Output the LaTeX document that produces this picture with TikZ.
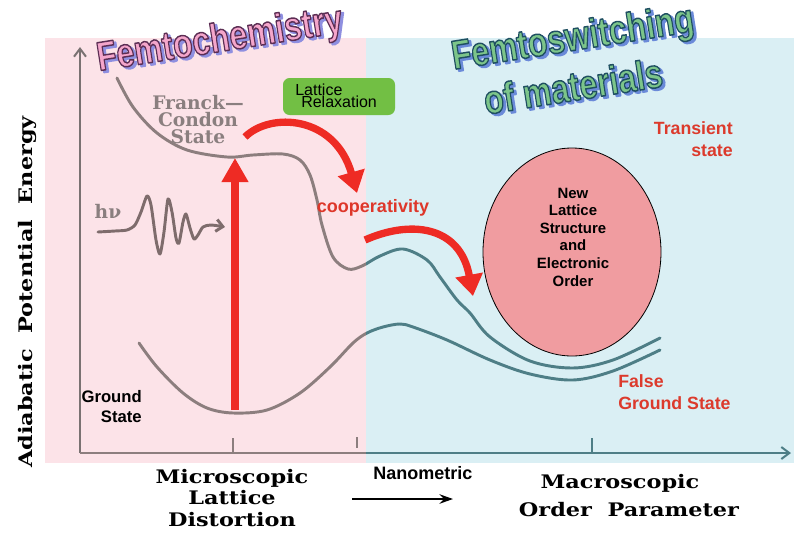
\documentclass[tikz,border=0pt]{standalone}
\usepackage{fontspec}
\setmainfont{Liberation Sans}
\newfontfamily\slab{DejaVu Serif}
\usetikzlibrary{arrows.meta,shapes.geometric}
\definecolor{bgpink}{HTML}{FCE3E8}
\definecolor{bgblue}{HTML}{DAEFF4}
\definecolor{cgrey}{HTML}{8C7E7E}
\definecolor{cteal}{HTML}{4E7E86}
\definecolor{axgrey}{HTML}{7A7272}
\definecolor{redc}{HTML}{EE2B24}
\definecolor{textred}{HTML}{DC3A2C}
\definecolor{boxgreen}{HTML}{72BF44}
\definecolor{ellfill}{HTML}{F09CA0}
\definecolor{fcgrey}{HTML}{8A7F7F}
\definecolor{wavegrey}{HTML}{7E6C6C}
\definecolor{pinkfill}{HTML}{F4A6CB}
\definecolor{pinkshadow}{HTML}{8E8FE0}
\definecolor{greenfill}{HTML}{7CC58A}
\definecolor{greenshadow}{HTML}{6A8AD8}
\newcommand\fs[2]{\fontsize{#1}{#2}\selectfont}
% stroked (outlined) text: #1 stroke colour as "r g b", #2 width, #3 text
\newcommand\strk[3]{\special{pdf:literal direct #1 RG #2 w 1 j 2 Tr}#3\special{pdf:literal direct 0 Tr}}
\newcommand\wide[1]{\scalebox{1.2}[1]{#1}}
\newcommand\narrow[1]{\scalebox{0.79}[1]{#1}}
\tikzset{
  ttl/.style={inner sep=0pt, rotate=9, font=\fs{30.5}{30.5}\bfseries},
  slabtext/.style={inner sep=0pt, font=\slab\bfseries\fs{14}{16}, align=center},
  redtext/.style={inner sep=0pt, text=textred, font=\bfseries\fs{13.3}{16.5}},
  curve/.style={line width=2.2pt, line join=round, line cap=round},
  redarrow/.style={draw=redc, line width=5.5pt},
  axisline/.style={line width=1.5pt}
}
\begin{document}
\begin{tikzpicture}[x=0.75pt,y=-0.75pt]
\useasboundingbox (0,0) rectangle (794,533);
\fill[white] (0,0) rectangle (794,533);
% backgrounds
\fill[bgpink] (45,38) rectangle (366,463);
\fill[bgblue] (366,38) rectangle (794,463);

% y axis
\coordinate (yb) at (80,453);
\coordinate (yt) at (80,47);
\draw[axisline, axgrey, -{Straight Barb[length=6pt,width=9pt]}] (yb) -- (yt);

% curves and x axis, grey on pink, teal on blue
\foreach \cl/\xa/\xb in {cgrey/0/366, cteal/366/794}{
  \begin{scope}
    \clip (\xa,0) rectangle (\xb,533);
    \draw[curve, \cl] plot[smooth, tension=0.55] coordinates {
      (117,78) (133,107) (157,133) (187,150) (227,157) (253,155) (283,154)
      (300,160) (310,175) (317,200) (322,225) (333,257) (348,269) (362,266)
      (380,256) (403,249) (427,260) (440,277) (457,300) (470,313) (490,337)
      (530,361) (573,368) (613,360) (660,338)};
    \draw[curve, \cl] plot[smooth, tension=0.55] coordinates {
      (139,343) (157,367) (183,393) (207,408) (233,413) (267,410) (300,393)
      (330,367) (353,343) (367,333) (383,327) (400,324) (413,327) (447,340)
      (490,360) (530,374) (573,380) (613,371) (660,350)};
    \draw[axisline, \cl, -{Straight Barb[length=6pt,width=9pt]}] (80,453) -- (791,453);
    \draw[axisline, \cl] (233,438) -- (233,453);
    \draw[axisline, \cl] (357,437) -- (357,448);
    \draw[axisline, \cl] (592,438) -- (592,453);
  \end{scope}
}

% lattice relaxation box
\node[fill=boxgreen, rounded corners=5pt, minimum width=84pt, minimum height=27.75pt, inner sep=0pt] (lrbox) at (339,96.5) {};
\node[anchor=west, inner sep=0pt, font=\fs{12}{12}] (lrA) at (295,90) {Lattice};
\node[anchor=west, inner sep=0pt, font=\fs{12}{12}] (lrB) at (301,102) {Relaxation};

% Franck-Condon
\node[slabtext, text=fcgrey, font=\slab\bfseries\fs{14}{12.75}] (fc) at (198,120) {Franck—\\Condon\\State};

% h nu wave packet
\node[slabtext, text=fcgrey, font=\slab\bfseries\fs{14}{14}] (hnu) at (108,211) {hν};
\draw[line width=2.2pt, wavegrey, line join=round, line cap=round, -{Straight Barb[length=5pt,width=9pt]}]
  plot[smooth, tension=0.45] coordinates {
  (98,232) (115,231) (127,230) (135,225) (141,212) (147,196) (151,205) (156,240)
  (160,254) (164,232) (168,199) (172,212) (176,238) (179,243) (183,222) (186,214)
  (190,228) (194,239) (198,235) (203,227) (211,225) (225,227)};

% red arrows
\coordinate (vb) at (235,410);
\coordinate (vt) at (235,158);
\draw[redarrow, line width=6pt, -{Triangle[length=18pt,width=19pt]}] (vb) -- (vt);
\coordinate (a1s) at (245,137);
\coordinate (a1e) at (357,193);
\draw[redarrow, -{Triangle[length=16pt,width=20pt]}] (a1s) .. controls (270,112) and (335,115) .. (a1e);
\coordinate (a2s) at (365,240);
\coordinate (a2e) at (473,296);
\draw[redarrow, -{Triangle[length=16pt,width=20pt]}] (a2s) .. controls (410,220) and (460,225) .. (a2e);

\node[redtext, text=textred!95!red, font=\bfseries\fs{13.5}{14}] (coop) at (373,208) {cooperativity};

% ellipse
\node[draw=black, line width=0.6pt, fill=ellfill, ellipse, minimum width=133.5pt, minimum height=156pt, inner sep=0pt] (ell) at (572,252) {};
\node[align=center, inner sep=0pt, font=\bfseries\fs{11.2}{13.2}] (elltxt) at (573,237) {New\\Lattice\\Structure\\and\\Electronic\\Order};

% red labels
\node[redtext, align=right, anchor=north east] (trans) at (733,121) {Transient\\state};
\node[redtext, align=left, anchor=north west] (fgs) at (618,374) {False\\Ground State};

% ground state
\node[inner sep=0pt, align=right, anchor=north east, font=\bfseries\fs{12.5}{15}] (gs) at (142,390) {Ground\\State};

% bottom labels
\node[slabtext] (micro) at (232,498) {\wide{Microscopic}\\\wide{Lattice}\\\wide{Distortion}};
\node[inner sep=0pt, font=\bfseries\fs{13.5}{14}] (nano) at (423,473) {Nanometric};
\coordinate (na) at (352,499);
\coordinate (nb) at (453,499);
\draw[line width=1.6pt, -{Stealth[length=10pt,width=7pt]}] (na) -- (nb);
\node[slabtext] (macro) at (620,483) {\wide{Macroscopic}};
\node[slabtext] (order) at (629,510) {\wide{Order\ \ Parameter}};

% y label
\node[slabtext, rotate=90] (ylab) at (27,292) {\wide{Adiabatic\ \ Potential\ \ Energy}};

% titles (last: they change the pdf text state)
\node[ttl, text=pinkshadow, xshift=1.8pt, yshift=-1.8pt] (femcS) at (220,41) {\strk{0.56 0.56 0.88}{1.4}{\narrow{Femtochemistry}}};
\node[ttl, text=pinkfill] (femc) at (220,41) {\strk{0.36 0.18 0.33}{1.1}{\narrow{Femtochemistry}}};
\node[ttl, text=greenshadow, xshift=1.8pt, yshift=-1.8pt] (femswS) at (573,40) {\strk{0.42 0.54 0.85}{1.4}{\narrow{Femtoswitching}}};
\node[ttl, text=greenfill] (femsw) at (573,40) {\strk{0.12 0.31 0.38}{1.1}{\narrow{Femtoswitching}}};
\node[ttl, text=greenshadow, xshift=1.8pt, yshift=-1.8pt] (femmatS) at (573,86) {\strk{0.42 0.54 0.85}{1.4}{\narrow{of materials}}};
\node[ttl, text=greenfill] (femmat) at (573,86) {\strk{0.12 0.31 0.38}{1.1}{\narrow{of materials}}};
\end{tikzpicture}
\end{document}
